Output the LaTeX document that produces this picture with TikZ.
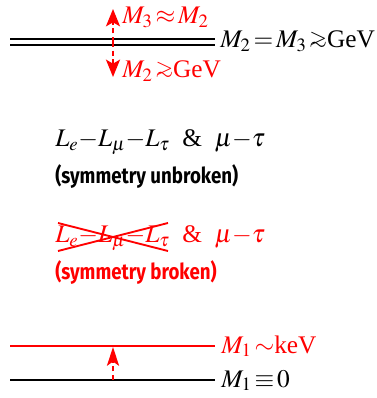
\documentclass[tikz,border=0pt]{standalone}
\usepackage{mathptmx}
\usepackage{amssymb}
\usepackage{fontspec}
\setmainfont{Liberation Serif}
\newfontfamily\notefont{Fira Sans}[UprightFont=* Bold, FakeStretch=0.85]
\newcommand{\gsim}{\mathrel{\vcenter{\offinterlineskip\fontsize{17}{17}\selectfont
    \hbox{$>$}\kern-2.5pt\hbox{$\sim$}}}}
\newcommand{\relspace}{\thickmuskip=2mu\relax}
\usepackage{tikz}
\usetikzlibrary{arrows.meta, positioning}
\definecolor{brokenred}{RGB}{255, 0, 0}
\tikzset{
    level/.style={line width=1.4pt},
    label/.style={inner sep=0pt, anchor=base west, font=\fontsize{19}{21}\selectfont\relspace},
    note/.style={inner sep=0pt, anchor=west, font=\notefont\fontsize{16.5}{18}\selectfont},
    shift arrow/.style={brokenred, line width=1.6pt, dash pattern=on 4pt off 2.5pt, -{Stealth[length=13pt, width=10.5pt, inset=3pt]}},
    cross/.style={brokenred, line width=1.4pt}
}

\begin{document}
\begin{tikzpicture}[x=0.75pt, y=-0.75pt]
    \useasboundingbox (0,0) rectangle (376,398);

    % heavy pair
    \draw [level] (10,39) -- (215,39);
    \draw [level] (10,45) -- (215,45);
    \node (heavy) [label] at (220,48) {$M_2=M_3\gsim$GeV};
    \coordinate (split) at (113,42);
    \coordinate (up) at (113,9);
    \coordinate (down) at (113,77);
    \draw [shift arrow] (split) -- (up);
    \draw [shift arrow] (split) -- (down);
    \node (near) [label, text=brokenred] at (122,24) {$M_3\approx M_2$};
    \node (above) [label, text=brokenred] at (122,78) {$M_2\gsim$GeV};

    % symmetry statements
    \node (sym) [label] at (55,147) {$L_e{-}L_\mu{-}L_\tau$\ \ \&\ \ $\mu{-}\tau$};
    \node (unbroken) [note, below=22pt of sym.base west, anchor=west] {(symmetry unbroken)};
    \node (bsym) [label, text=brokenred] at (55,243) {$L_e{-}L_\mu{-}L_\tau$\ \ \&\ \ $\mu{-}\tau$};
    \node (broken) [note, text=brokenred, below=22pt of bsym.base west, anchor=west] {(symmetry broken)};
    \coordinate (xa) at (58,223);
    \coordinate (xb) at (168,251);
    \coordinate (xc) at (58,251);
    \coordinate (xd) at (168,223);
    \draw [cross] (xa) -- (xb);
    \draw [cross] (xc) -- (xd);

    % light state
    \draw [level, brokenred] (10,346) -- (215,346);
    \draw [level] (10,380) -- (215,380);
    \node (lifted) [label, text=brokenred] at (221,353) {$M_1\sim$keV};
    \node (zero) [label] at (221,387) {$M_1\equiv0$};
    \coordinate (base) at (113,380);
    \coordinate (top) at (113,347);
    \draw [shift arrow, -{Stealth[length=14pt, width=9pt, inset=3pt]}] (base) -- (top);
\end{tikzpicture}
\end{document}
